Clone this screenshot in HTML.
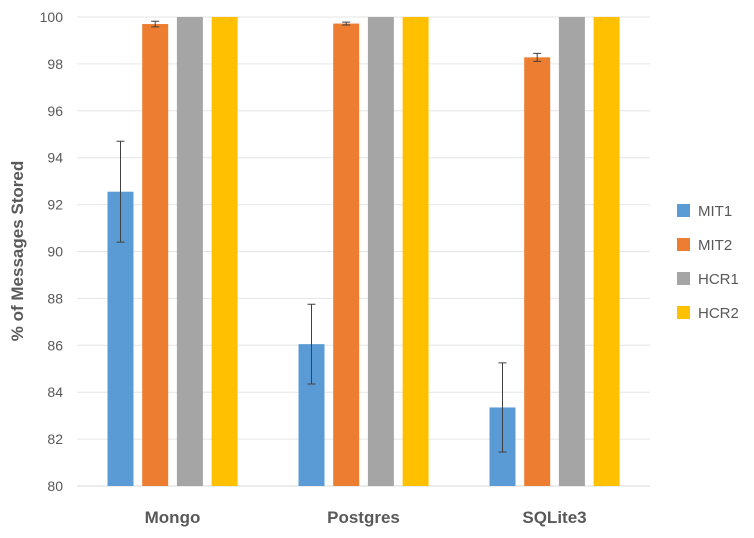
<!DOCTYPE html>
<html><head><meta charset="utf-8"><style>
body{margin:0;background:#fff;font-family:"Liberation Sans",sans-serif}
</style></head><body>
<svg id="chart" width="754" height="533"></svg>
<script>
const categories=["Mongo","Postgres","SQLite3"];
const seriesNames=["MIT1","MIT2","HCR1","HCR2"];
const colors=["#5b9bd5","#ed7d31","#a5a5a5","#ffc000"];
const mit1=[92.55,86.05,83.35];
const mit1Err=[2.15,1.7,1.9];
const mit2=[99.7,99.72,98.28];
const mit2Err=[0.12,0.06,0.17];
const hcr1=[100,100,100];
const hcr2=[100,100,100];
const yTicks=[80,82,84,86,88,90,92,94,96,98,100];
const values=[mit1,mit2,hcr1,hcr2];
const errs=[mit1Err,mit2Err,null,null];
const NS="http://www.w3.org/2000/svg";
const svg=document.getElementById("chart");
const x0=77,x1=650,yTop=17,yBot=486;
const y=v=>yBot-(v-80)/20*(yBot-yTop);
const gw=(x1-x0)/categories.length;
function el(t,a,p){const e=document.createElementNS(NS,t);for(const k in a)e.setAttribute(k,a[k]);(p||svg).appendChild(e);return e;}
yTicks.forEach(t=>{
 const g=el("line",{x1:x0,x2:x1,y1:y(t),y2:y(t),stroke:t===80?"#d9d9d9":"#e6e6e6","stroke-width":1});
 
 
 const tx=el("text",{x:63,y:y(t)+5,"text-anchor":"end","font-size":14,fill:"#595959"});
 tx.textContent=t;
 
 
});
const bw=26,step=34.7;
categories.forEach((c,i)=>{
 const gc=x0+gw*(i+0.5);
 values.forEach((s,j)=>{
  const bx=gc-65+j*step;
  const r=el("rect",{x:bx,y:y(s[i]),width:bw,height:yBot-y(s[i]),fill:colors[j]});
  
  
  if(errs[j]){
   const cx=bx+bw/2,hi=y(s[i]+errs[j][i]),lo=y(s[i]-errs[j][i]);
   const e=el("path",{d:`M${cx},${hi}V${lo}M${cx-4},${hi}H${cx+4}M${cx-4},${lo}H${cx+4}`,stroke:"#404040","stroke-width":1,fill:"none"});
   
   
  }
 });
 const t=el("text",{x:gc,y:523,"text-anchor":"middle","font-size":17,"font-weight":"bold",fill:"#595959"});
 t.textContent=c;
 
 
});
const yt=el("text",{transform:"translate(23,251) rotate(-90)","text-anchor":"middle","font-size":17,"font-weight":"bold",fill:"#595959"});
yt.textContent="% of Messages Stored";


seriesNames.forEach((n,j)=>{
 const ly=210+j*34;
 const sq=el("rect",{x:677,y:ly-6,width:13,height:13,fill:colors[j]});
 
 
 const t=el("text",{x:698,y:ly+6,"font-size":15,fill:"#595959"});
 t.textContent=n;
 
 
});
</script>
</body></html>
